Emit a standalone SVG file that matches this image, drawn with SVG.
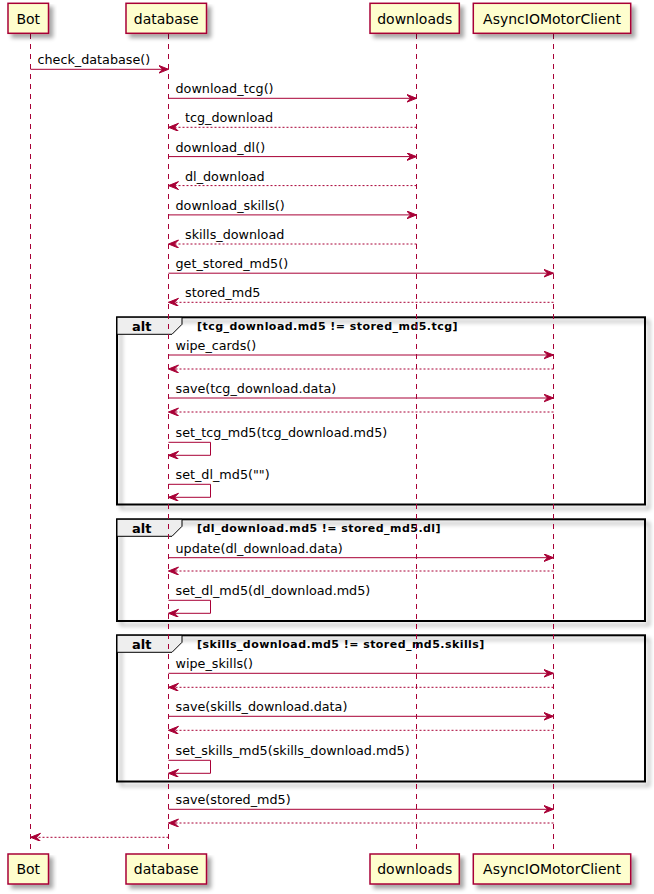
<svg xmlns="http://www.w3.org/2000/svg" width="654" height="894" viewBox="0 0 654 894">
<defs>
<filter id="sh" x="-10%" y="-10%" width="130%" height="140%">
<feGaussianBlur in="SourceAlpha" stdDeviation="2" result="b"/>
<feOffset in="b" dx="4" dy="4" result="o"/>
<feComponentTransfer in="o" result="o2"><feFuncA type="linear" slope="0.35"/></feComponentTransfer>
<feMerge><feMergeNode in="o2"/><feMergeNode in="SourceGraphic"/></feMerge>
</filter>
<marker id="ah" markerUnits="userSpaceOnUse" markerWidth="11" markerHeight="9" refX="10" refY="4" orient="auto">
<path d="M0,0 L10,4 L0,8 L4,4 Z" fill="#A80036" stroke="#A80036" stroke-width="1"/>
</marker>
</defs>
<style>
.box{fill:#FEFECE;stroke:#A80036;stroke-width:1.5}
.life{stroke:#A80036;stroke-width:1;stroke-dasharray:5,5}
.pt{font-family:"DejaVu Sans",sans-serif;font-size:14px;fill:#000;text-anchor:middle}
.msg{stroke:#A80036;stroke-width:1;fill:none;marker-end:url(#ah)}
.ret{stroke:#A80036;stroke-width:1;fill:none;stroke-dasharray:2,2;marker-end:url(#ah)}
.ml{font-family:"DejaVu Sans",sans-serif;font-size:12.75px;fill:#000}
.frame{fill:none;stroke:#000;stroke-width:2}
.tab{fill:#EEEEEE;stroke:#000;stroke-width:1}
.altl{font-family:"DejaVu Sans",sans-serif;font-size:13px;font-weight:bold;fill:#000}
.cond{font-family:"DejaVu Sans",sans-serif;font-size:11px;font-weight:bold;fill:#000;letter-spacing:0.45px}
</style>
<rect width="654" height="894" fill="#FFFFFF"/>

<g id="frame-alt1">
<rect class="frame" x="117" y="317.3" width="528" height="187.2" filter="url(#sh)"/>
<polygon class="tab" points="117,317.3 182,317.3 182,324.3 172,334.3 117,334.3"/>
<text class="altl" x="132" y="330.5">alt</text>
<text class="cond" x="197" y="329.5">[tcg_download.md5 != stored_md5.tcg]</text>
</g>
<g id="frame-alt2">
<rect class="frame" x="117" y="519.3" width="528" height="101.7" filter="url(#sh)"/>
<polygon class="tab" points="117,519.3 182,519.3 182,526.3 172,536.3 117,536.3"/>
<text class="altl" x="132" y="532.5">alt</text>
<text class="cond" x="197" y="531.5">[dl_download.md5 != stored_md5.dl]</text>
</g>
<g id="frame-alt3">
<rect class="frame" x="117" y="635.3" width="528" height="146.2" filter="url(#sh)"/>
<polygon class="tab" points="117,635.3 182,635.3 182,642.3 172,652.3 117,652.3"/>
<text class="altl" x="132" y="648.5">alt</text>
<text class="cond" x="197" y="647.5">[skills_download.md5 != stored_md5.skills]</text>
</g>

<g id="Bot">
<line class="life" x1="30.5" y1="34" x2="30.5" y2="854"/>
<rect class="box" x="8" y="3.3" width="40.5" height="30" filter="url(#sh)"/>
<text class="pt" x="28.3" y="23.5">Bot</text>
<rect class="box" x="8" y="854" width="40.5" height="30" filter="url(#sh)"/>
<text class="pt" x="28.3" y="874.2">Bot</text>
</g>
<g id="database">
<line class="life" x1="168.5" y1="34" x2="168.5" y2="854"/>
<rect class="box" x="126" y="3.3" width="80.5" height="30" filter="url(#sh)"/>
<text class="pt" x="166.3" y="23.5">database</text>
<rect class="box" x="126" y="854" width="80.5" height="30" filter="url(#sh)"/>
<text class="pt" x="166.3" y="874.2">database</text>
</g>
<g id="downloads">
<line class="life" x1="416.5" y1="34" x2="416.5" y2="854"/>
<rect class="box" x="370" y="3.3" width="89.3" height="30" filter="url(#sh)"/>
<text class="pt" x="414.7" y="23.5">downloads</text>
<rect class="box" x="370" y="854" width="89.3" height="30" filter="url(#sh)"/>
<text class="pt" x="414.7" y="874.2">downloads</text>
</g>
<g id="AsyncIOMotorClient">
<line class="life" x1="553.5" y1="34" x2="553.5" y2="854"/>
<rect class="box" x="473.3" y="3.3" width="157.4" height="30" filter="url(#sh)"/>
<text class="pt" x="552" y="23.5">AsyncIOMotorClient</text>
<rect class="box" x="473.3" y="854" width="157.4" height="30" filter="url(#sh)"/>
<text class="pt" x="552" y="874.2">AsyncIOMotorClient</text>
</g>

<g id="connectors">
<path class="msg" d="M30.5,69.3 H168.5"/>
<text class="ml" x="37.5" y="64.3">check_database()</text>
<path class="msg" d="M168.5,98.3 H416.5"/>
<text class="ml" x="175.5" y="93.3">download_tcg()</text>
<path class="ret" d="M416.5,127.3 H168.5"/>
<text class="ml" x="185" y="122.3">tcg_download</text>
<path class="msg" d="M168.5,156.6 H416.5"/>
<text class="ml" x="175.5" y="151.6">download_dl()</text>
<path class="ret" d="M416.5,185.6 H168.5"/>
<text class="ml" x="185" y="180.6">dl_download</text>
<path class="msg" d="M168.5,214.9 H416.5"/>
<text class="ml" x="175.5" y="209.9">download_skills()</text>
<path class="ret" d="M416.5,244 H168.5"/>
<text class="ml" x="185" y="239">skills_download</text>
<path class="msg" d="M168.5,273.2 H553.5"/>
<text class="ml" x="175.5" y="268.2">get_stored_md5()</text>
<path class="ret" d="M553.5,302.3 H168.5"/>
<text class="ml" x="185" y="297.3">stored_md5</text>

<path class="msg" d="M168.5,355 H553.5"/>
<text class="ml" x="175.5" y="350">wipe_cards()</text>
<path class="ret" d="M553.5,369 H168.5"/>
<path class="msg" d="M168.5,398 H553.5"/>
<text class="ml" x="175.5" y="393">save(tcg_download.data)</text>
<path class="ret" d="M553.5,412 H168.5"/>
<path class="msg" d="M168.5,442.3 H210.5 V455.3 H168.5"/>
<text class="ml" x="175.5" y="437.3">set_tcg_md5(tcg_download.md5)</text>
<path class="msg" d="M168.5,484.3 H210.5 V497.3 H168.5"/>
<text class="ml" x="175.5" y="479.3">set_dl_md5("")</text>

<path class="msg" d="M168.5,557.7 H553.5"/>
<text class="ml" x="175.5" y="552.7">update(dl_download.data)</text>
<path class="ret" d="M553.5,571 H168.5"/>
<path class="msg" d="M168.5,600.3 H210.5 V613.3 H168.5"/>
<text class="ml" x="175.5" y="595.3">set_dl_md5(dl_download.md5)</text>

<path class="msg" d="M168.5,673.3 H553.5"/>
<text class="ml" x="175.5" y="668.3">wipe_skills()</text>
<path class="ret" d="M553.5,687.3 H168.5"/>
<path class="msg" d="M168.5,716.3 H553.5"/>
<text class="ml" x="175.5" y="711.3">save(skills_download.data)</text>
<path class="ret" d="M553.5,730.3 H168.5"/>
<path class="msg" d="M168.5,760.3 H210.5 V773.3 H168.5"/>
<text class="ml" x="175.5" y="755.3">set_skills_md5(skills_download.md5)</text>

<path class="msg" d="M168.5,809.3 H553.5"/>
<text class="ml" x="175.5" y="804.3">save(stored_md5)</text>
<path class="ret" d="M553.5,823 H168.5"/>
<path class="ret" d="M168.5,837.3 H30.5"/>
</g>
</svg>
